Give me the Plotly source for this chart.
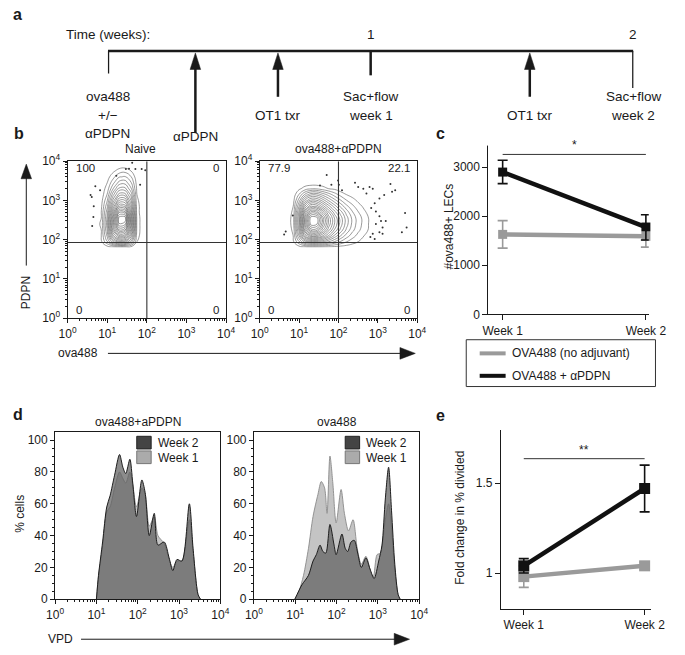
import plotly.graph_objects as go

W, H = 685, 655
FONT = "Liberation Sans, Arial, Helvetica, sans-serif"
INK = "#1a1a1a"
GRAY = "#9a9a9a"


def X(p):
    return p / W


def Y(p):
    return 1 - p / H


# ============================ DATA ============================
# (a) timeline, in days after immunisation
EVENT_DAYS = [0, 2.33, 4.53, 7, 11.24, 14]
EVENT_TEXT = ["ova488\n+/−\nαPDPN", "αPDPN", "OT1 txr", "Sac+flow\nweek 1", "OT1 txr", "Sac+flow\nweek 2"]
EVENT_IS_ARROW = [False, True, True, False, True, False]
WEEK_DAYS = [7, 14]
WEEK_TEXT = ["1", "2"]

# (b) flow plots: density estimates on log10 grids
NAIVE_LOG_OVA = [0.70, 0.85, 1.00, 1.15, 1.30, 1.45, 1.60, 1.75, 1.90, 2.05]
NAIVE_LOG_PDPN = [1.80, 1.95, 2.10, 2.25, 2.40, 2.55, 2.70, 2.85, 3.00, 3.15, 3.30, 3.45, 3.60, 3.75, 3.90]
NAIVE_DENSITY = [
    [0, 0, 0, 0, 0, 0, 0, 0, 0, 0],
    [0, 2, 12, 26, 34, 33, 20, 3, 0, 0],
    [0, 3, 18, 44, 58, 56, 34, 5, 0, 0],
    [0, 3, 22, 56, 78, 74, 44, 6, 0, 0],
    [0, 4, 24, 62, 92, 90, 50, 6, 0, 0],
    [0, 3, 23, 60, 95, 96, 50, 6, 0, 0],
    [0, 3, 20, 52, 82, 80, 45, 5, 0, 0],
    [0, 2, 16, 42, 64, 62, 38, 5, 0, 0],
    [0, 1, 12, 33, 50, 50, 31, 4, 0, 0],
    [0, 0, 8, 25, 38, 38, 25, 3, 0, 0],
    [0, 0, 5, 17, 28, 28, 18, 2, 0, 0],
    [0, 0, 3, 11, 19, 20, 13, 1, 0, 0],
    [0, 0, 1, 6, 12, 13, 8, 0, 0, 0],
    [0, 0, 0, 2, 5, 6, 3, 0, 0, 0],
    [0, 0, 0, 0, 0, 0, 0, 0, 0, 0],
]
NAIVE_DOT_LOG_OVA = [0.58, 0.61, 0.70, 0.66, 0.65, 0.62, 0.82, 1.23, 1.47, 1.63, 1.55, 1.71, 1.87, 1.96, 1.83]
NAIVE_DOT_LOG_PDPN = [3.14, 3.09, 3.36, 2.85, 2.58, 2.35, 3.26, 3.63, 3.80, 3.96, 3.81, 3.80, 3.80, 3.77, 3.40]

PDPN_LOG_OVA = [0.70, 0.85, 1.00, 1.15, 1.30, 1.45, 1.60, 1.75, 1.90, 2.05, 2.20, 2.35, 2.50, 2.65, 2.80, 2.95]
PDPN_LOG_PDPN = [1.80, 1.95, 2.10, 2.25, 2.40, 2.55, 2.70, 2.85, 3.00, 3.15, 3.30, 3.45]
PDPN_DENSITY = [
    [0, 0, 0, 0, 0, 0, 0, 0, 0, 0, 0, 0, 0, 0, 0, 0],
    [0, 2, 12, 24, 30, 30, 27, 22, 17, 12, 8, 5, 3, 1, 0, 0],
    [0, 3, 22, 45, 58, 58, 50, 40, 30, 22, 15, 10, 6, 3, 1, 0],
    [0, 4, 28, 60, 80, 80, 66, 52, 40, 30, 21, 14, 9, 5, 2, 0],
    [0, 5, 32, 70, 95, 93, 75, 58, 45, 34, 24, 16, 10, 6, 2, 0],
    [0, 5, 32, 70, 96, 95, 76, 58, 45, 34, 24, 16, 10, 6, 2, 0],
    [0, 4, 28, 60, 80, 78, 64, 50, 38, 29, 20, 13, 8, 4, 1, 0],
    [0, 3, 22, 46, 60, 58, 48, 38, 29, 21, 14, 9, 5, 2, 0, 0],
    [0, 1, 15, 32, 42, 41, 34, 26, 19, 13, 8, 5, 2, 0, 0, 0],
    [0, 0, 8, 18, 25, 25, 20, 15, 10, 6, 3, 1, 0, 0, 0, 0],
    [0, 0, 2, 5, 7, 7, 5, 3, 2, 0, 0, 0, 0, 0, 0, 0],
    [0, 0, 0, 0, 0, 0, 0, 0, 0, 0, 0, 0, 0, 0, 0, 0],
]
PDPN_DOT_LOG_OVA = [0.62, 0.66, 0.84, 1.70, 1.53, 1.82, 2.01, 1.99, 2.09, 2.42, 2.50, 2.63, 2.79, 2.87,
                    3.32, 3.44, 3.16, 3.04, 2.92, 2.83, 2.95, 3.04, 3.08, 2.95, 3.12, 3.04, 2.87, 2.92,
                    3.61, 3.73, 3.69, 3.36, 2.71, 2.81, 3.20, 3.12]
PDPN_DOT_LOG_PDPN = [2.13, 2.21, 2.62, 3.65, 3.38, 3.40, 3.40, 3.51, 3.26, 3.45, 3.34, 3.30, 3.34, 3.30,
                     3.42, 3.26, 3.14, 3.05, 2.93, 2.81, 2.72, 2.60, 2.48, 2.40, 2.31, 2.19, 2.15, 2.02,
                     2.19, 2.31, 2.68, 3.22, 3.18, 2.07, 2.48, 2.15]
QUAD_NAIVE = ["100", "0", "0", "0"]      # upper-left, upper-right, lower-left, lower-right
QUAD_PDPN = ["77.9", "22.1", "0", "0"]
GATE_OVA = 100
GATE_PDPN = 85

# (c) number of ova488+ LECs
WEEKS = ["Week 1", "Week 2"]
LEC_NOADJ = [1630, 1590]
LEC_NOADJ_ERR = [280, 220]
LEC_PDPN = [2900, 1780]
LEC_PDPN_ERR_UP = [240, 250]
LEC_PDPN_ERR_DOWN = [235, 265]
LEC_SIG_Y = 3260

# (d) VPD dilution histograms (% of max), x in log10(VPD)
HL_LOG_VPD = [1.00, 1.05, 1.15, 1.25, 1.33, 1.44, 1.56, 1.64, 1.71, 1.81, 1.88, 1.97, 2.10, 2.18,
              2.28, 2.40, 2.49, 2.64, 2.76, 2.85, 2.95, 3.07, 3.25, 3.34, 3.46, 3.52]
HL_WEEK2 = [0, 15, 36, 58, 65, 78, 91, 83, 79, 88, 73, 52, 75, 67, 40, 54, 34, 36, 26, 18, 25, 24, 60, 32, 3, 0]
HL_WEEK1 = [0, 14, 33, 55, 58, 70, 80, 76, 73, 80, 72, 58, 70, 66, 46, 52, 40, 35, 25, 20, 24, 24, 50, 30, 3, 0]

HR_WEEK1_LOG_VPD = [0.99, 1.09, 1.20, 1.32, 1.43, 1.55, 1.63, 1.71, 1.77, 1.84, 1.91, 1.99, 2.11, 2.19,
                    2.29, 2.40, 2.50, 2.60, 2.71, 2.83, 2.89, 2.98, 3.06, 3.18, 3.26, 3.33, 3.41, 3.49, 3.54]
HR_WEEK1 = [0, 5, 15, 32, 52, 66, 74, 70, 54, 90, 73, 48, 69, 54, 43, 50, 32, 22, 27, 17, 14, 28, 29, 50,
            60, 45, 18, 3, 0]
HR_WEEK2_LOG_VPD = [0.99, 1.16, 1.32, 1.43, 1.51, 1.60, 1.67, 1.74, 1.84, 1.94, 1.99, 2.13, 2.21, 2.27,
                    2.35, 2.43, 2.52, 2.60, 2.71, 2.81, 2.91, 3.02, 3.10, 3.18, 3.26, 3.33, 3.41, 3.49, 3.54]
HR_WEEK2 = [0, 9, 15, 24, 28, 34, 30, 29, 47, 34, 28, 41, 32, 30, 36, 37, 28, 20, 26, 19, 13, 24, 34, 63,
            83, 56, 22, 3, 0]

# (e) fold change in % divided
FOLD_NOADJ = [0.98, 1.04]
FOLD_NOADJ_ERR = [0.06, 0.02]
FOLD_PDPN = [1.04, 1.47]
FOLD_PDPN_ERR = [0.04, 0.13]
FOLD_SIG_Y = 1.636

# ============================ FIGURE ============================
fig = go.Figure()
shapes = []
ann = []


def text(x, y, s, size=12, xanchor="center", yanchor="middle", bold=False, angle=0, xref="paper", yref="paper", color=INK):
    ann.append(dict(x=x, y=y, xref=xref, yref=yref, text=("<b>%s</b>" % s) if bold else s, showarrow=False,
                    xanchor=xanchor, yanchor=yanchor, textangle=angle,
                    font=dict(family=FONT, size=size, color=color)))


def pline(x0, y0, x1, y1, width=1, color=INK, xref="paper", yref="paper"):
    shapes.append(dict(type="line", x0=x0, y0=y0, x1=x1, y1=y1, xref=xref, yref=yref,
                       line=dict(color=color, width=width)))


def tri(pts, xref="paper", yref="paper", color=INK):
    path = "M " + " L ".join("%f,%f" % p for p in pts) + " Z"
    shapes.append(dict(type="path", path=path, xref=xref, yref=yref, fillcolor=color,
                       line=dict(color=color, width=0.5)))


# ---------------- panel a ----------------
fig.add_trace(go.Scatter(x=[0, 14], y=[0, 0], xaxis="x7", yaxis="y7", mode="markers",
                         marker=dict(opacity=0), hoverinfo="skip", showlegend=False))
pline(0, Y(43), 14, Y(43), width=2.5, xref="x7")
A_SIZE = 13.5
text(X(57), Y(26), "Time (weeks):", size=A_SIZE, xanchor="left")
for d, t in zip(WEEK_DAYS, WEEK_TEXT):
    text(d, Y(26), t, size=A_SIZE, xref="x7")
STEM_BOTTOM = [66, 127, 90, 68, 90, 81]
LABEL_TOP = [90, 131, 109, 90, 109, 90]
for d, s, is_arrow, yb, yl in zip(EVENT_DAYS, EVENT_TEXT, EVENT_IS_ARROW, STEM_BOTTOM, LABEL_TOP):
    if is_arrow:
        pline(d, Y(yb), d, Y(60), width=2.5, xref="x7")
        hw = 5.5 / 39.07
        tri([(d - hw, Y(62)), (d, Y(45)), (d + hw, Y(62))], xref="x7")
    else:
        pline(d, Y(43), d, Y(yb), width=2.5, xref="x7")
    for i, line in enumerate(s.split("\n")):
        text(d, Y(yl + 19 * i), line, size=A_SIZE, xref="x7")

# ---------------- panel b ----------------
LOG_TV = [1, 10, 100, 1000, 10000]
LOG_TT = ["10<sup>%d</sup>" % i for i in range(5)]
MINOR_LOG = [m * 10 ** e for e in range(4) for m in range(2, 10)]

for (lx, ly, z, dx, dy, xa, ya) in [
    (NAIVE_LOG_OVA, NAIVE_LOG_PDPN, NAIVE_DENSITY, NAIVE_DOT_LOG_OVA, NAIVE_DOT_LOG_PDPN, "x", "y"),
    (PDPN_LOG_OVA, PDPN_LOG_PDPN, PDPN_DENSITY, PDPN_DOT_LOG_OVA, PDPN_DOT_LOG_PDPN, "x2", "y2"),
]:
    fig.add_trace(go.Contour(x=[10 ** v for v in lx], y=[10 ** v for v in ly], z=z, xaxis=xa, yaxis=ya,
                             contours=dict(start=3, end=97, size=4.7, coloring="lines"),
                             line=dict(width=0.6, smoothing=1.3),
                             colorscale=[[0, "#555555"], [1, "#555555"]], showscale=False,
                             hoverinfo="skip", showlegend=False))
    fig.add_trace(go.Scatter(x=[10 ** v for v in dx], y=[10 ** v for v in dy], xaxis=xa, yaxis=ya,
                             mode="markers", marker=dict(size=2, color="#333"), hoverinfo="skip",
                             showlegend=False))
    fig.add_trace(go.Scatter(x=[GATE_OVA, GATE_OVA], y=[1, 10000], xaxis=xa, yaxis=ya, mode="lines",
                             line=dict(color="#333", width=1.1), hoverinfo="skip", showlegend=False))
    fig.add_trace(go.Scatter(x=[1, 10000], y=[GATE_PDPN, GATE_PDPN], xaxis=xa, yaxis=ya, mode="lines",
                             line=dict(color="#333", width=1.1), hoverinfo="skip", showlegend=False))

for xa, ya, q in [("x", "y", QUAD_NAIVE), ("x2", "y2", QUAD_PDPN)]:
    for s, (qx, qy, xan) in zip(q, [(0.04, 0.955, "left"), (0.965, 0.955, "right"),
                                    (0.04, 0.055, "left"), (0.965, 0.055, "right")]):
        text(qx, qy, s, size=11.5, xanchor=xan, xref=xa + " domain", yref=ya + " domain")

text(X(137), Y(144), "Naive")
text(X(343), Y(144), "ova488+αPDPN")
# PDPN axis arrow
text(X(18), Y(291), "PDPN", angle=-90)
pline(X(18), Y(263), X(18), Y(170))
tri([(X(12.5), Y(174)), (X(18), Y(159)), (X(23.5), Y(174))])
# ova488 axis arrow
text(X(72), Y(353), "ova488")
pline(X(103), Y(353), X(410), Y(353))
tri([(X(407), Y(347)), (X(423), Y(353)), (X(407), Y(359))])

# ---------------- panel c ----------------
fig.add_trace(go.Scatter(x=WEEKS, y=LEC_NOADJ, xaxis="x3", yaxis="y3", mode="lines+markers",
                         line=dict(color=GRAY, width=4.5), marker=dict(symbol="square", size=9, color=GRAY),
                         error_y=dict(type="data", array=LEC_NOADJ_ERR, color=GRAY, thickness=1.6, width=5),
                         cliponaxis=False, showlegend=False))
fig.add_trace(go.Scatter(x=WEEKS, y=LEC_PDPN, xaxis="x3", yaxis="y3", mode="lines+markers",
                         line=dict(color="#111", width=4.5), marker=dict(symbol="square", size=9, color="#111"),
                         error_y=dict(type="data", array=LEC_PDPN_ERR_UP, arrayminus=LEC_PDPN_ERR_DOWN,
                                      color="#111", thickness=1.6, width=5),
                         cliponaxis=False, showlegend=False))
fig.add_trace(go.Scatter(x=WEEKS, y=[LEC_SIG_Y, LEC_SIG_Y], xaxis="x3", yaxis="y3", mode="lines",
                         line=dict(color="#333", width=1), cliponaxis=False, hoverinfo="skip", showlegend=False))
text(0.5, LEC_SIG_Y, "*", size=12, yanchor="bottom", xref="x3", yref="y3")
text(X(458), Y(223), "#ova488+ LECs", angle=-90)
# legend box
shapes.append(dict(type="rect", xref="paper", yref="paper", x0=X(476), x1=X(673), y0=Y(387), y1=Y(339),
                   line=dict(color="#333", width=1), fillcolor="rgba(0,0,0,0)"))
pline(X(490), Y(353), X(517), Y(353), width=4, color=GRAY)
pline(X(490), Y(376), X(517), Y(376), width=4, color="#111")
text(X(522), Y(353), "OVA488 (no adjuvant)", xanchor="left")
text(X(522), Y(376), "OVA488 + αPDPN", xanchor="left")

# ---------------- panel d ----------------
W1_FILL, W1_LINE = "#c4c4c4", "#8a8a8a"
W2_FILL, W2_LINE = "rgba(95,95,95,0.72)", "#1e1e1e"
for xa, ya, l1x, l1y, l2x, l2y in [
    ("x4", "y4", HL_LOG_VPD, HL_WEEK1, HL_LOG_VPD, HL_WEEK2),
    ("x5", "y5", HR_WEEK1_LOG_VPD, HR_WEEK1, HR_WEEK2_LOG_VPD, HR_WEEK2),
]:
    fig.add_trace(go.Scatter(x=[10 ** v for v in l1x], y=l1y, xaxis=xa, yaxis=ya, mode="lines",
                             line=dict(color=W1_LINE, width=0.9, shape="spline", smoothing=0.8),
                             fill="tozeroy", fillcolor=W1_FILL, hoverinfo="skip", showlegend=False))
    fig.add_trace(go.Scatter(x=[10 ** v for v in l2x], y=l2y, xaxis=xa, yaxis=ya, mode="lines",
                             line=dict(color=W2_LINE, width=1, shape="spline", smoothing=0.8),
                             fill="tozeroy", fillcolor=W2_FILL, hoverinfo="skip", showlegend=False))

for x0 in (133, 350):
    shapes.append(dict(type="rect", xref="paper", yref="paper", x0=X(x0), x1=X(x0 + 15), y0=Y(451), y1=Y(438),
                       fillcolor="#444", line=dict(color="#222", width=1)))
    shapes.append(dict(type="rect", xref="paper", yref="paper", x0=X(x0), x1=X(x0 + 15), y0=Y(466), y1=Y(453),
                       fillcolor="#ababab", line=dict(color="#777", width=1)))
    text(X(x0 + 20), Y(445), "Week 2", xanchor="left")
    text(X(x0 + 20), Y(460), "Week 1", xanchor="left")

text(X(134), Y(423), "ova488+aPDPN")
text(X(341), Y(423), "ova488")
text(X(12), Y(518), "% cells", angle=-90)
text(X(54), Y(646), "VPD")
pline(X(75), Y(646), X(404), Y(646))
tri([(X(401), Y(640)), (X(417), Y(646)), (X(401), Y(652))])

# ---------------- panel e ----------------
fig.add_trace(go.Scatter(x=WEEKS, y=FOLD_NOADJ, xaxis="x6", yaxis="y6", mode="lines+markers",
                         line=dict(color=GRAY, width=4.5), marker=dict(symbol="square", size=11, color=GRAY),
                         error_y=dict(type="data", array=FOLD_NOADJ_ERR, color=GRAY, thickness=1.6, width=5),
                         cliponaxis=False, showlegend=False))
fig.add_trace(go.Scatter(x=WEEKS, y=FOLD_PDPN, xaxis="x6", yaxis="y6", mode="lines+markers",
                         line=dict(color="#111", width=4.5), marker=dict(symbol="square", size=11, color="#111"),
                         error_y=dict(type="data", array=FOLD_PDPN_ERR, color="#111", thickness=1.6, width=5),
                         cliponaxis=False, showlegend=False))
fig.add_trace(go.Scatter(x=WEEKS, y=[FOLD_SIG_Y, FOLD_SIG_Y], xaxis="x6", yaxis="y6", mode="lines",
                         line=dict(color="#333", width=1), cliponaxis=False, hoverinfo="skip", showlegend=False))
text(0.5, FOLD_SIG_Y, "**", size=12, yanchor="bottom", xref="x6", yref="y6")
text(X(470), Y(521), "Fold change in % divided", angle=-90)

# ---------------- panel letters ----------------
for s, x, y in [("a", 2, 6), ("b", 3, 128), ("c", 442, 128), ("d", 2, 416), ("e", 442, 417)]:
    text(X(x), Y(y), s, size=16, xanchor="left", bold=True)


# ---------------- axes ----------------
def axis(**kw):
    d = dict(showline=True, linecolor=INK, linewidth=1, ticks="outside", tickcolor=INK, ticklen=4,
             tickwidth=1, showgrid=False, zeroline=False,
             tickfont=dict(family=FONT, size=12, color=INK))
    d.update(kw)
    return d


def logaxis(domain, anchor, minor_len=2):
    return axis(type="log", range=[0, 4], domain=domain, anchor=anchor, mirror=True,
                tickvals=LOG_TV, ticktext=LOG_TT,
                minor=dict(tickvals=MINOR_LOG, ticks="outside", ticklen=minor_len, tickcolor=INK,
                           showgrid=False))


layout = dict(
    width=W, height=H, autosize=False, margin=dict(l=0, r=0, t=0, b=0),
    paper_bgcolor="white", plot_bgcolor="white", showlegend=False,
    font=dict(family=FONT, size=12, color=INK),
    xaxis=logaxis([X(61), X(226)], "y"),
    yaxis=logaxis([Y(317), Y(156)], "x"),
    xaxis2=logaxis([X(261), X(425)], "y2"),
    yaxis2=logaxis([Y(317), Y(156)], "x2"),
    xaxis3=axis(domain=[X(499), X(666)], anchor="y3", range=[-0.1, 1.02], ticklen=5),
    yaxis3=axis(domain=[Y(313), Y(137)], anchor="x3", range=[0, 3500], tickvals=[0, 1000, 2000, 3000],
                ticklen=5),
    xaxis4=logaxis([X(48), X(220)], "y4"),
    yaxis4=axis(domain=[Y(605), Y(434)], anchor="x4", range=[0, 104.9], mirror=True,
                tickvals=[0, 20, 40, 60, 80, 100],
                minor=dict(dtick=5, ticks="outside", ticklen=2, tickcolor=INK, showgrid=False)),
    xaxis5=logaxis([X(255), X(427)], "y5"),
    yaxis5=axis(domain=[Y(605), Y(434)], anchor="x5", range=[0, 104.9], mirror=True,
                tickvals=[0, 20, 40, 60, 80, 100],
                minor=dict(dtick=5, ticks="outside", ticklen=2, tickcolor=INK, showgrid=False)),
    xaxis6=axis(domain=[X(512), X(668)], anchor="y6", range=[-0.19, 1.05], ticklen=5),
    yaxis6=axis(domain=[Y(615), Y(432)], anchor="x6", range=[0.8, 1.793], tickvals=[1, 1.5],
                ticktext=["1", "1.5"], ticklen=5),
    xaxis7=dict(domain=[X(103), X(650)], range=[0, 14], anchor="y7", visible=False),
    yaxis7=dict(domain=[Y(140), Y(0)], range=[0, 1], anchor="x7", visible=False),
    shapes=shapes,
    annotations=ann,
)
fig.update_layout(**layout)
fig.write_html("out.html", config={"displayModeBar": False, "staticPlot": True},
               post_script="document.body.style.margin='0';document.body.style.overflow='hidden';")
